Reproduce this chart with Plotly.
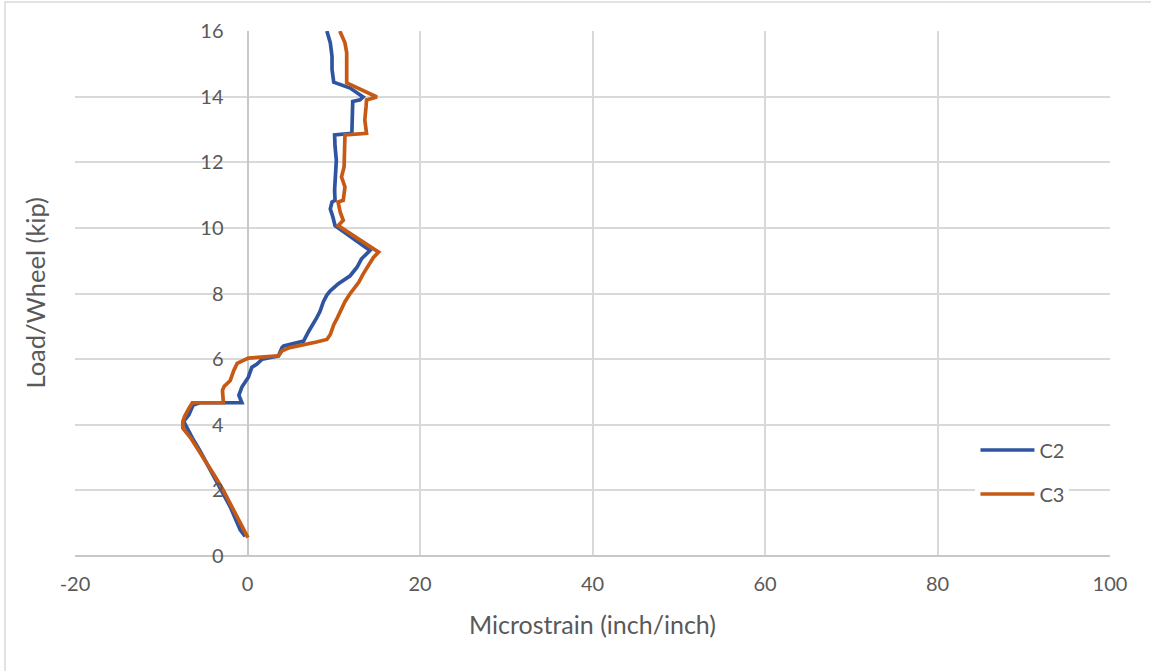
import plotly.graph_objects as go

# Gauge C2: microstrain vs. load per wheel
c2_strain = [-0.27, -0.85, -2.0, -3.0, -4.5, -5.5, -6.4, -7.4, -6.8, -6.3, -5.5, -0.65,
             -1.0, -0.65, 0.1, 0.5, 1.1, 1.7, 3.6, 4.0, 4.2, 6.5, 7.1, 7.6, 8.0, 8.4,
             8.8, 9.2, 9.6, 10.5, 11.9, 12.7, 13.2, 14.2, 10.15, 9.9, 9.6, 9.8, 10.15,
             10.1, 10.15, 10.3, 10.15, 10.1, 12.1, 12.1, 12.2, 13.05, 13.4, 11.9, 10.0,
             9.8, 9.8, 9.6, 9.2]
c2_load = [0.6, 0.8, 1.5, 2.0, 2.7, 3.2, 3.6, 4.1, 4.3, 4.6, 4.67, 4.67,
           4.9, 5.15, 5.45, 5.75, 5.85, 6.0, 6.1, 6.35, 6.4, 6.55, 6.85, 7.05, 7.25, 7.45,
           7.75, 7.95, 8.08, 8.29, 8.54, 8.8, 9.05, 9.31, 10.07, 10.33, 10.58, 10.79, 10.84,
           11.15, 11.55, 12.07, 12.48, 12.83, 12.88, 13.29, 13.85, 13.9, 13.99, 14.26, 14.44,
           14.83, 15.23, 15.64, 16.0]

# Gauge C3: microstrain vs. load per wheel
c3_strain = [0.05, -0.5, -1.6, -2.8, -3.7, -4.9, -5.8, -6.6, -7.2, -7.5, -7.5, -7.3,
             -6.8, -6.4, -2.8, -2.9, -2.7, -2.0, -1.6, -1.2, 0.1, 3.6, 4.0, 4.9, 8.0,
             9.2, 9.6, 10.0, 10.4, 10.9, 11.3, 11.9, 12.5, 12.9, 13.4, 14.2, 14.6, 15.2,
             10.5, 11.1, 10.75, 10.5, 11.1, 11.3, 10.9, 11.2, 11.2, 11.3, 13.8, 13.6,
             13.75, 13.8, 15.0, 13.6, 11.5, 11.5, 11.5, 11.3, 10.7]
c3_load = [0.56, 0.84, 1.4, 2.0, 2.4, 2.9, 3.3, 3.6, 3.8, 3.9, 4.1, 4.25,
           4.5, 4.67, 4.67, 5.05, 5.17, 5.35, 5.65, 5.87, 6.03, 6.1, 6.25, 6.35, 6.52,
           6.6, 6.75, 7.05, 7.25, 7.55, 7.75, 8.0, 8.2, 8.34, 8.59, 8.9, 9.1, 9.26,
           10.07, 10.23, 10.48, 10.79, 10.84, 11.25, 11.55, 11.86, 12.27, 12.83, 12.88, 13.29,
           13.7, 13.9, 13.99, 14.16, 14.42, 14.83, 15.34, 15.64, 16.0]

x_ticks = [-20, 0, 20, 40, 60, 80, 100]
x_tick_text = ["-20", "0", "20", "40", "60", "80", "100"]
y_ticks = [0, 2, 4, 6, 8, 10, 12, 14, 16]

X_MIN, X_MAX = -20, 100
FONT = "Lato"
TXT = "#595959"
GRID = "#d9d9d9"

fig = go.Figure()
fig.add_trace(go.Scatter(x=c2_strain, y=c2_load, mode="lines", name="C2",
                         legendgroup="c2",
                         line=dict(color="#2F55A0", width=3.7)))
fig.add_trace(go.Scatter(x=c3_strain, y=c3_load, mode="lines", name="C3",
                         legendgroup="c3",
                         line=dict(color="#C65A15", width=3.7)))

# vertical axis crosses the horizontal one at zero strain
y_cross = (0 - X_MIN) / (X_MAX - X_MIN)

fig.update_layout(
    width=1151, height=671,
    margin=dict(l=75, r=41, t=31, b=115),
    paper_bgcolor="white", plot_bgcolor="white",
    font=dict(family=FONT, color=TXT, size=20),
    showlegend=True,
    legend=dict(x=0.87, y=0.16, xanchor="left", yanchor="middle",
                bgcolor="white", font=dict(size=20, color=TXT),
                traceorder="grouped", tracegroupgap=15,
                itemwidth=54),
    xaxis=dict(range=[X_MIN, X_MAX], tickvals=x_ticks, ticktext=x_tick_text,
               showgrid=True, gridcolor=GRID, gridwidth=1.5,
               zeroline=True, zerolinecolor="#c8c8c8", zerolinewidth=2,
               showline=False, ticks="", ticklabelstandoff=14,
               tickfont=dict(size=20, color=TXT),
               title=dict(text="Microstrain (inch/inch)", font=dict(size=25, color=TXT),
                          standoff=22)),
    yaxis=dict(range=[0, 16], tickvals=y_ticks, anchor="free", position=y_cross,
               showgrid=True, gridcolor=GRID, gridwidth=1.5,
               zeroline=True, zerolinecolor="#c8c8c8", zerolinewidth=2,
               showline=False, ticks="", ticklabelstandoff=24,
               tickfont=dict(size=20, color=TXT)),
    annotations=[dict(text="Load/Wheel (kip)", textangle=-90, showarrow=False,
                      xref="paper", yref="paper", x=-0.0396, y=0.5,
                      xanchor="center", yanchor="middle",
                      font=dict(size=25.5, color=TXT))],
    shapes=[dict(type="rect", xref="paper", yref="paper",
                 x0=-0.0676, x1=1.2, y0=-0.3, y1=1.0552,
                 line=dict(color="#d9d9d9", width=1.5), layer="below")],
)

fig.write_html("out.html")
